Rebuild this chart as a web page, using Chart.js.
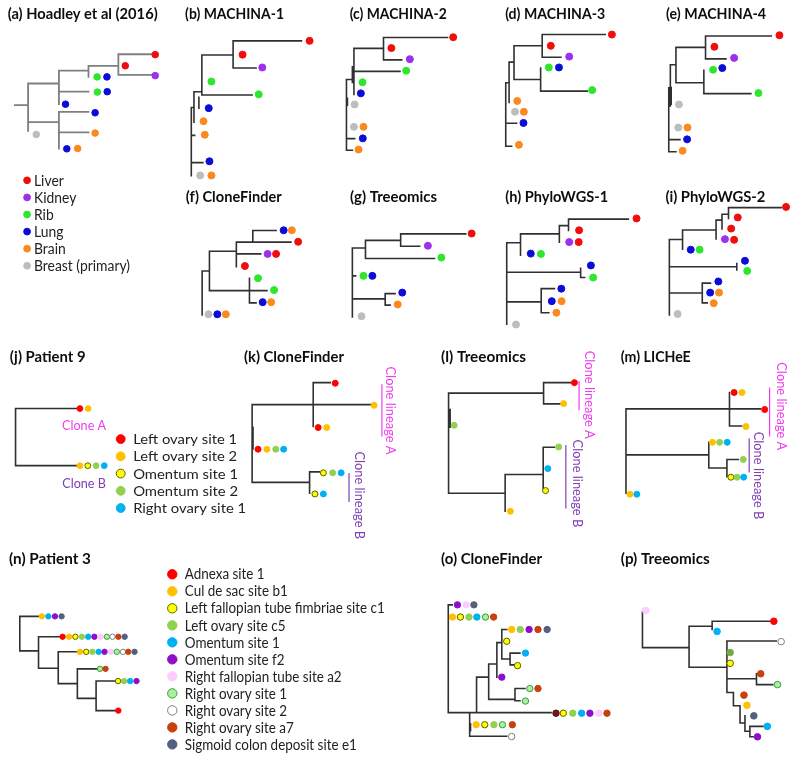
<!DOCTYPE html>
<html><head><meta charset="utf-8">
<script src="https://cdn.jsdelivr.net/npm/chart.js@4/dist/chart.umd.min.js"></script>
<style>html,body{margin:0;padding:0;background:#fff}#c{display:block}</style>
</head><body>
<canvas id="c" width="796" height="757"></canvas>
<script>
// ---------- categories ----------
const breastSites = ['Liver','Kidney','Rib','Lung','Brain','Breast (primary)'];
const patient9Sites = ['Left ovary site 1','Left ovary site 2','Omentum site 1','Omentum site 2','Right ovary site 1'];
const patient3Sites = ['Adnexa site 1','Cul de sac site b1','Left fallopian tube fimbriae site c1','Left ovary site c5','Omentum site 1','Omentum site f2','Right fallopian tube site a2','Right ovary site 1','Right ovary site 2','Right ovary site a7','Sigmoid colon deposit site e1'];

// ---------- panel titles ----------
const panelTitles = ['(a) Hoadley et al (2016)','(b) MACHINA-1','(c) MACHINA-2','(d) MACHINA-3','(e) MACHINA-4','(f) CloneFinder','(g) Treeomics','(h) PhyloWGS-1','(i) PhyloWGS-2','(j) Patient 9','(k) CloneFinder','(l) Treeomics','(m) LICHeE','(n) Patient 3','(o) CloneFinder','(p) Treeomics'];

// ---------- trees: branches [x1,y1,x2,y2], leaves [x,y,category] ----------
const treeA = [[9.3,101,22.7,101],[22.7,79,22.7,127],[22.7,79,54,79],[54,66,54,100],[54,66,84,66],[54,87.3,84,87.3],[84,61,84,72.3],[84,61,114.3,61],[114.3,49.3,114.3,70.3],[114.3,49.3,147.7,49.3],[114.3,70.3,147.7,70.3],[22.7,118.3,54,118.3],[54,107.7,54,145],[54,107.7,84,107.7],[54,128.7,84,128.7]];
const leavesA = [[151.7,49.7,'Liver'],[151.7,71,'Kidney'],[121.3,61,'Liver'],[92.7,72.3,'Rib'],[102.7,72.3,'Lung'],[93,87.7,'Rib'],[103,87.3,'Lung'],[60.7,100,'Lung'],[90.7,108.7,'Lung'],[90.7,129.3,'Brain'],[62,145.3,'Lung'],[73,145,'Brain'],[31,130.7,'Breast (primary)']];

const treeB = [[230.7,35.7,300,35.7],[230.7,35.7,230.7,63.3],[230.7,63.3,254,63.3],[199,50,230.7,50],[199,50,199,90.7],[199,90.7,250,90.7],[191,87.3,199,87.3],[191,87.3,191,118.3],[196,93,196,104],[188.3,103.3,191,103.3],[188.3,103.3,188.3,172.7],[188.3,131.7,191.7,131.7],[188.3,159.3,200,159.3]];
const leavesB = [[308.3,35.7,'Liver'],[240.3,49.7,'Liver'],[260.3,62.7,'Kidney'],[208.7,77,'Rib'],[256.7,90,'Rib'],[206,104,'Lung'],[200.7,117.3,'Brain'],[202,131,'Brain'],[206.7,158,'Lung'],[197.3,172.3,'Breast (primary)'],[208.7,172.3,'Brain']];

const treeC = [[383.3,32.3,448.3,32.3],[383.3,32.3,383.3,55],[383.3,55,401.7,55],[353.3,43.3,383.3,43.3],[353.3,43.3,353.3,90],[351.7,66.7,400,66.7],[351.7,62,351.7,78],[345.7,75,345.7,146.7],[346.7,94,346.7,101],[345.7,75,351.7,75],[345.7,135,354,135],[345.7,146.7,351.7,146.7]];
const leavesC = [[454,32,'Liver'],[391.3,43,'Liver'],[410,54.3,'Kidney'],[406.3,66,'Rib'],[362,77.7,'Rib'],[360.3,89,'Lung'],[354,100.3,'Breast (primary)'],[353.3,123,'Breast (primary)'],[363,123,'Brain'],[362.3,134.7,'Lung'],[358,146,'Brain']];

const treeD = [[544.3,29.3,608.3,29.3],[544.3,29.3,544.3,52.3],[544.3,52.3,563.3,52.3],[515.7,40.7,544.3,40.7],[515.7,40.7,515.7,75],[515.7,75,542.7,75],[542.7,63.3,542.7,86.7],[542.7,86.7,590,86.7],[510.7,57.3,515.7,57.3],[510.7,57.3,510.7,98.3],[507.3,78.3,510.7,78.3],[507.3,78.3,507.3,142.7],[507.3,119.3,518.3,119.3],[507.3,142.7,513.3,142.7]];
const leavesD = [[615,29.3,'Liver'],[553,40.7,'Liver'],[571.7,51.7,'Kidney'],[551,62.7,'Rib'],[561.3,62.7,'Lung'],[595,85.7,'Rib'],[519,96.7,'Brain'],[516.7,107.7,'Breast (primary)'],[525.7,107.7,'Brain'],[525.3,119,'Lung'],[520.7,141.3,'Brain']];

const treeE = [[710,30.7,776.7,30.7],[710,30.7,710,54],[710,54,730.7,54],[680,42.3,710,42.3],[680,42.3,680,78.3],[680,78.3,708.3,78.3],[708.3,65.7,708.3,89.3],[708.3,89.3,756,89.3],[674.3,60,680,60],[674.3,60,674.3,101.7],[675.2,83,675.2,100],[672.7,83.3,674.3,83.3],[672.7,83.3,672.7,148.3],[672.7,136,684,136],[672.7,148.3,680,148.3]];
const leavesE = [[785,30,'Liver'],[719,41.7,'Liver'],[739,53,'Kidney'],[717.7,65,'Rib'],[727,63.3,'Lung'],[763.7,88.7,'Rib'],[683,100.3,'Breast (primary)'],[682.3,123.7,'Breast (primary)'],[691.7,123.7,'Brain'],[691.3,135.7,'Lung'],[686.7,147.3,'Brain']];

const treeF = [[199.3,269.3,206.7,269.3],[199.3,269.3,199.3,314],[206.7,249.3,206.7,289.3],[206.7,249.3,234,249.3],[234,240,234,265],[234,240,250.7,240],[250.7,228.3,250.7,240],[250.7,228.3,274.3,228.3],[250.7,240,289.3,240],[234,252,258.7,252],[206.7,289.3,265,289.3],[247.3,276.7,247.3,301.7],[247.3,301.7,254,301.7]];
const leavesF = [[282,228,'Lung'],[290.3,228,'Brain'],[296.7,239.7,'Liver'],[265.7,252,'Kidney'],[274.3,252,'Liver'],[242.7,264.3,'Liver'],[256,276.7,'Rib'],[272.3,288.7,'Rib'],[260.7,301,'Lung'],[269.3,301,'Brain'],[205.7,313.3,'Breast (primary)'],[214.7,313.3,'Lung'],[223.3,313.3,'Brain']];

const treeG = [[351.7,246,351.7,316],[351.7,246,365,246],[365,238.3,365,256.7],[365,238.3,400.7,238.3],[400.7,231.7,400.7,244.3],[400.7,231.7,466.7,231.7],[400.7,244.3,420,244.3],[365,256.7,435,256.7],[351.7,274.3,355,274.3],[351.7,297.7,385,297.7],[385,292.3,385,304],[385,292.3,395,292.3],[385,304,390,304]];
const leavesG = [[472.7,231.3,'Liver'],[428.3,243.7,'Kidney'],[442,255.7,'Rib'],[363,274.3,'Rib'],[372,274.3,'Lung'],[402.3,291.3,'Lung'],[397.7,303.3,'Brain'],[361,315.3,'Breast (primary)']];

const treeH = [[508.3,240.7,508.3,323.3],[508.3,240.7,522.3,240.7],[522.3,231.7,522.3,253.3],[522.3,231.7,561.7,231.7],[561.7,223.3,561.7,240],[561.7,223.3,571,223.3],[571,216.7,571,228.3],[571,216.7,631.7,216.7],[508.3,270.7,583.3,270.7],[583.3,266.7,583.3,276],[583.3,276,587.3,276],[508.3,300.7,543.3,300.7],[543.3,287.3,543.3,311.7],[543.3,287.3,556.7,287.3],[543.3,311.7,551,311.7]];
const leavesH = [[640,216,'Liver'],[581.7,228,'Liver'],[571.7,240,'Kidney'],[581.3,240,'Liver'],[532.7,251.7,'Lung'],[543,252,'Rib'],[593.7,263.7,'Lung'],[596,276,'Rib'],[563.7,287.3,'Lung'],[554,300,'Lung'],[564,300,'Brain'],[558.7,311.7,'Brain'],[517.7,323.7,'Breast (primary)']];

const treeI = [[673.3,237.3,673.3,314],[673.3,237.3,686.7,237.3],[686.7,227.7,686.7,247.3],[686.7,227.7,720.7,227.7],[720.7,217.7,720.7,236.7],[720.7,217.7,726.7,217.7],[726.7,211.7,726.7,226.7],[726.7,211.7,733.3,211.7],[733.3,205,733.3,216],[733.3,205,786.7,205],[673.3,265,741.7,265],[741.7,261.7,741.7,268.3],[673.3,291.7,706.7,291.7],[706.7,281.7,706.7,301.7],[706.7,281.7,715,281.7],[706.7,301.7,711.7,301.7]];
const leavesI = [[791.7,204.3,'Liver'],[742.7,215,'Liver'],[736,226.3,'Liver'],[729.7,237,'Kidney'],[739,237.7,'Liver'],[695,247.7,'Lung'],[704,247.7,'Rib'],[750,259,'Lung'],[752.3,269.3,'Rib'],[723,280,'Lung'],[714.7,291.3,'Lung'],[723.7,291.3,'Brain'],[718.3,302,'Brain'],[681.7,313,'Breast (primary)']];

const treeJ = [[10,409,10,467],[10,409,72.7,409],[10,467,72.7,467]];
const leavesJ = [[75.3,409,'Left ovary site 1'],[83.7,409,'Left ovary site 2'],[75.3,467,'Left ovary site 2'],[83.3,467,'Omentum site 1'],[91.7,467,'Omentum site 2'],[100,467,'Right ovary site 1']];

const treeK = [[250,405,250,484],[250.9,428,250.9,450],[250,405,370,405],[312,382.7,312,427.3],[312,382.7,329.3,382.7],[250,484,308.3,484],[308.3,473.3,308.3,495],[308.3,473.3,318.3,473.3]];
const leavesK = [[373.7,405.7,'Left ovary site 2'],[334.3,383.3,'Left ovary site 1'],[317,428.3,'Left ovary site 1'],[325.7,428.3,'Left ovary site 2'],[256,450.3,'Left ovary site 1'],[265,450.3,'Left ovary site 2'],[274,450.3,'Omentum site 2'],[282,450.3,'Right ovary site 1'],[322.3,474.3,'Omentum site 1'],[331.7,474.3,'Omentum site 2'],[340.3,474.3,'Right ovary site 1'],[313.7,495.7,'Omentum site 1'],[322.3,495.7,'Right ovary site 1']];

const treeL = [[449.3,393.3,449.3,495],[450.9,410,450.9,428],[449.3,393.3,545.7,393.3],[545.7,382.7,545.7,404.3],[545.7,382.7,573.3,382.7],[545.7,404.3,563.3,404.3],[449.3,495,506.7,495],[506.7,476,506.7,513.3],[506.7,476,545.3,476],[545.3,448.3,545.3,491.7],[545.3,448.3,556.7,448.3]];
const leavesL = [[577,382.7,'Left ovary site 1'],[566,404,'Left ovary site 2'],[455,426,'Omentum site 2'],[512,513.3,'Left ovary site 2'],[561,448,'Omentum site 2'],[550,470,'Right ovary site 1'],[547.7,492.3,'Omentum site 1']];

const treeM = [[629.3,409.3,629.3,495],[629.3,409.3,765.7,409.3],[734.3,392.7,734.3,426.7],[734.3,426.7,746.7,426.7],[629.3,456,713.3,456],[713.3,443.3,713.3,469.3],[713.3,469.3,731.7,469.3],[731.7,460.7,731.7,478.3],[731.7,460.7,743.3,460.7]];
const leavesM = [[770,410,'Left ovary site 1'],[739,392.7,'Left ovary site 1'],[747,392.7,'Left ovary site 2'],[751,427.3,'Left ovary site 2'],[717,443.3,'Left ovary site 2'],[724.3,443.3,'Omentum site 2'],[732,443.3,'Right ovary site 1'],[748.3,460.7,'Omentum site 2'],[735.7,478.7,'Omentum site 1'],[742,478.7,'Omentum site 2'],[748.7,478.7,'Right ovary site 1'],[633.3,496,'Left ovary site 2'],[640.3,496,'Right ovary site 1']];

const treeN = [[14.3,620,14.3,655],[14.3,620,33.3,620],[14.3,655,33.3,655],[33.3,640.7,33.3,672.7],[33.3,640.7,55,640.7],[33.3,672.7,53.3,672.7],[53.3,656,53.3,688.3],[53.3,656,72.3,656],[53.3,688.3,72.7,688.3],[72.7,673.3,72.7,703.3],[72.7,673.3,92.7,673.3],[72.7,703.3,91.7,703.3],[91.7,685.7,91.7,715.7],[91.7,685.7,111,685.7],[91.7,715.7,111.7,715.7]];
const leavesN = [[36.7,620,'Cul de sac site b1'],[43.3,620,'Omentum site 1'],[50,620,'Omentum site f2'],[56.7,620,'Sigmoid colon deposit site e1'],
 [57.7,640.7,'Adnexa site 1'],[64.3,640.7,'Cul de sac site b1'],[70.7,640.7,'Left fallopian tube fimbriae site c1'],[77.3,640.7,'Left ovary site c5'],[83.7,640.7,'Omentum site 1'],[90,640.7,'Omentum site f2'],[96.3,640.7,'Right fallopian tube site a2'],[102.7,640.7,'Right ovary site 1'],[108.3,640.7,'Right ovary site 2'],[114.3,640.7,'Right ovary site a7'],[120.7,640.7,'Sigmoid colon deposit site e1'],
 [75.3,656,'Cul de sac site b1'],[81.7,656,'Left fallopian tube fimbriae site c1'],[88,656,'Left ovary site c5'],[94.3,656,'Omentum site 1'],[100.3,656,'Omentum site f2'],[106.7,656,'Right fallopian tube site a2'],[112.7,656,'Right ovary site 1'],[119,656,'Right ovary site 2'],[124.3,656,'Right ovary site a7'],[130.7,656,'Sigmoid colon deposit site e1'],
 [95.7,673.3,'Right ovary site 1'],[101.3,673.3,'Right ovary site a7'],
 [114,685.7,'Left fallopian tube fimbriae site c1'],[120,685.7,'Left ovary site c5'],[126.3,685.7,'Omentum site 1'],[132.7,685.7,'Omentum site f2'],
 [114.3,715.7,'Adnexa site 1']];

const treeO = [[449,608.3,449,717.7],[449,608.3,453,608.3],[449,717.7,553.3,717.7],[470.7,717.7,470.7,741.7],[471.6,729,471.6,736],[470.7,741.7,508.3,741.7],[477.7,681.7,477.7,717.7],[477.7,681.7,490,681.7],[490,668.3,490,704.3],[490,704.3,516.7,704.3],[516.7,693.3,516.7,705.7],[516.7,693.3,526.7,693.3],[516.7,705.7,521.7,705.7],[490,668.3,498.3,668.3],[498.3,646.7,498.3,681.7],[498.3,646.7,503.3,646.7],[503.3,633.3,503.3,663.3],[503.3,633.3,508.3,633.3],[503.3,663.3,511.7,663.3],[511.7,657.3,511.7,669.3],[511.7,657.3,521.7,657.3],[511.7,669.3,516,669.3]];
const leavesO = [[458.3,608.3,'Omentum site f2'],[467,608.3,'Right fallopian tube site a2'],[475,608.3,'Sigmoid colon deposit site e1'],
 [453.3,620.7,'Cul de sac site b1'],[461.3,620.7,'Left fallopian tube fimbriae site c1'],[470,620.7,'Left ovary site c5'],[478,620.7,'Omentum site 1'],[486.7,620.7,'Right ovary site 1'],[495,620.7,'Right ovary site a7'],
 [513.3,633.3,'Cul de sac site b1'],[522,633.3,'Left ovary site c5'],[531,633.3,'Omentum site f2'],[540,633.3,'Right ovary site a7'],[549.3,633.3,'Sigmoid colon deposit site e1'],
 [508.3,645.3,'Left fallopian tube fimbriae site c1'],[527.3,657.3,'Omentum site 1'],[519.3,670,'Left fallopian tube fimbriae site c1'],[503.3,681.7,'Omentum site f2'],[531.7,693.3,'Right ovary site 1'],[540,693.3,'Right ovary site a7'],[527.3,706,'Right ovary site 1'],
 [558.3,718.3,'Adnexa (dark)'],[565.7,718.3,'Left fallopian tube fimbriae site c1'],[575.3,718.3,'Left ovary site c5'],[584.3,718.3,'Omentum site 1'],[592.7,718.3,'Omentum site f2'],[601.7,718.3,'Right fallopian tube site a2'],[610,718.3,'Right ovary site a7'],
 [477.3,730,'Cul de sac site b1'],[486,730,'Left fallopian tube fimbriae site c1'],[495.3,730,'Left ovary site c5'],[504,730,'Right ovary site 1'],[514,730,'Right ovary site a7'],[513.3,742,'Right ovary site 2']];

const treeP = [[646,615,646,651.7],[646,651.7,693.3,651.7],[693.3,630,693.3,671.7],[693.3,630,716.7,630],[716.7,625,716.7,633.3],[716.7,625,775,625],[693.3,671.7,731.7,671.7],[731.7,645,731.7,697.3],[731.7,645,781.7,645],[731.7,683.3,761.7,683.3],[761.7,678.3,761.7,689.3],[761.7,689.3,778.3,689.3],[731.7,697.3,738.3,697.3],[738.3,697.3,738.3,710.7],[738.3,710.7,745,710.7],[745,710.7,745,728.3],[745,728.3,750,728.3],[750,721,750,736.7],[750,736.7,755,736.7],[755,731.7,755,742.3],[755,731.7,768.3,731.7],[755,742.3,758.3,742.3]];
const leavesP = [[649.3,614,'Right fallopian tube site a2'],[779.3,625,'Adnexa site 1'],[721.7,635.3,'Omentum site 1'],[786.7,645.7,'Right ovary site 2'],[735,656.7,'Left ovary (dark)'],[735,667.7,'Left fallopian tube fimbriae site c1'],[766,678.3,'Right ovary site a7'],[783,689.3,'Right ovary site 1'],[749,700,'Right ovary site a7'],[752,710.3,'Cul de sac site b1'],[759,721,'Sigmoid colon deposit site e1'],[772.7,731.7,'Omentum site 1'],[762.7,742.3,'Omentum site f2']];

// ---------- styles (colour palettes) ----------
const paletteA = {fill:{'Liver':'#f20d0d','Kidney':'#9b30f0','Rib':'#2ee62e','Lung':'#0c0cd8','Brain':'#fb8a1e','Breast (primary)':'#bdbdbd'}, border:{}};
const paletteP9 = {fill:{'Left ovary site 1':'#ff0000','Left ovary site 2':'#ffc000','Omentum site 1':'#ffff00','Omentum site 2':'#92d050','Right ovary site 1':'#00b0f0'},
  border:{'Omentum site 1':'#5e5e00'}};
const paletteP3 = {fill:{'Adnexa site 1':'#ff0000','Cul de sac site b1':'#ffc000','Left fallopian tube fimbriae site c1':'#ffff00','Left ovary site c5':'#92d050','Omentum site 1':'#00b0f0','Omentum site f2':'#8e0fc8','Right fallopian tube site a2':'#ffccff','Right ovary site 1':'#a8f0a0','Right ovary site 2':'#ffffff','Right ovary site a7':'#c8400e','Sigmoid colon deposit site e1':'#556080','Adnexa (dark)':'#9a0a0a','Left ovary (dark)':'#70ad47'},
  border:{'Left fallopian tube fimbriae site c1':'#5e5e00','Right ovary site 1':'#3c9c3c','Right ovary site 2':'#7f7f7f','Adnexa (dark)':'#222222'}};
const fillOf=(p,c)=>p.fill[c], borderOf=(p,c)=>p.border[c]||p.fill[c];

// ---------- layout ----------
const titleAnchors = [[2,9],[182,9],[349,9],[506.7,9],[670,9],[182.7,194.5],[349.3,194.5],[506.7,195],[669.3,195],[4,357],[241.7,357],[441.7,357],[624,357],[3.3,562.5],[441.7,562.5],[624,562.5]];
const titleWidths = [150,99,97,100,100,96,87,103,100,76,100,85,70,82,101,89];
const legendA = {x:21.7, y0:177.3, dy:17.35, r:3.4, tx:28.7, font:14.5, refText:'Breast (primary)', refW:96};
const legendJ = {x:116.7, y0:440, dy:17.5, r:4.4, tx:129.3, font:14, refText:'Left ovary site 1', refW:104};
const legendN = {x:169, y0:577.3, dy:17.27, r:4.7, tx:181.7, font:14.5, refText:'Left fallopian tube fimbriae site c1', refW:200};
const cloneLabels = [['Clone A',79.5,426,'#f03cf0'],['Clone B',79.5,484.7,'#8040b4']];
const lineageLabels = [['Clone lineage A',390.5,411,'#f03cf0',[381.7,385,381.7,436.7]],['Clone lineage B',358.5,497,'#8040b4',[348.3,475,348.3,503.3]],
 ['Clone lineage A',592.7,395,'#f03cf0',[581.7,381.7,581.7,410]],['Clone lineage B',580,485,'#8040b4',[568.3,446.7,568.3,510]],
 ['Clone lineage A',786.7,406.7,'#f03cf0',[775,388.3,775,436.7]],['Clone lineage B',763.3,477,'#8040b4',[754.3,440,754.3,473.3]]];

// ---------- build datasets ----------
function segData(segs){ const d=[]; segs.forEach(s=>{d.push({x:s[0],y:s[1]},{x:s[2],y:s[3]},{x:null,y:null});}); return d; }
function branchSet(segs,color,w){ return {type:'line',data:segData(segs),borderColor:color,borderWidth:w,pointRadius:0,spanGaps:false,fill:false,tension:0,borderCapStyle:'square',order:3}; }
function leafSet(leaves,r,p){
  return {type:'scatter',data:leaves.map(l=>({x:l[0],y:l[1]})),pointRadius:r,pointHoverRadius:r,
    pointBackgroundColor:leaves.map(l=>fillOf(p,l[2])),pointBorderColor:leaves.map(l=>borderOf(p,l[2])),pointBorderWidth:1,order:1};
}
function legendSet(cats,L,p){
  return {type:'scatter',data:cats.map((c,i)=>({x:L.x,y:L.y0+i*L.dy})),pointRadius:L.r,pointHoverRadius:L.r,
    pointBackgroundColor:cats.map(c=>fillOf(p,c)),pointBorderColor:cats.map(c=>borderOf(p,c)),pointBorderWidth:1,order:1};
}
const dark='#303030';
const datasets = [
  branchSet(treeA,'#7f7f7f',1.8),
  ...[treeB,treeC,treeD,treeE,treeF,treeG,treeH,treeI].map(t=>branchSet(t,dark,1.6)),
  ...[treeJ,treeK,treeL,treeM,treeN,treeO,treeP].map(t=>branchSet(t,dark,1.6)),
  ...lineageLabels.map(l=>branchSet([l[4]],l[3],1.2)),
  leafSet(leavesA,3.3,paletteA),
  ...[leavesB,leavesC,leavesD,leavesE,leavesF,leavesG,leavesH,leavesI].map(l=>leafSet(l,3.5,paletteA)),
  leafSet(leavesJ,2.9,paletteP9), leafSet(leavesK,3,paletteP9), leafSet(leavesL,3,paletteP9), leafSet(leavesM,3,paletteP9),
  leafSet(leavesN,2.7,paletteP3), leafSet(leavesO,3.2,paletteP3), leafSet(leavesP,3.3,paletteP3),
  legendSet(breastSites,legendA,paletteA), legendSet(patient9Sites,legendJ,paletteP9), legendSet(patient3Sites,legendN,paletteP3)
];

// ---------- text plugin ----------
const FONT='Lato, "Open Sans", sans-serif';
function fitText(ctx,text,x,y,stretch,center){
  const m=ctx.measureText(text).width;
  ctx.save(); ctx.translate(x,y); ctx.scale(stretch,1); ctx.textAlign='left';
  ctx.fillText(text, center? -m/2 : 0, 0); ctx.restore();
}
const textPlugin = {
  id:'texts',
  afterDraw(chart){
    const ctx=chart.ctx, sx=chart.scales.x, sy=chart.scales.y;
    const X=v=>sx.getPixelForValue(v), Y=v=>sy.getPixelForValue(v);
    ctx.save();
    ctx.textBaseline='middle';
    ctx.fillStyle='#0d0d0d';
    ctx.font='bold 14.5px '+FONT;
    panelTitles.forEach((t,i)=>{const s=titleWidths[i]/ctx.measureText(t).width; fitText(ctx,t,X(titleAnchors[i][0]),Y(titleAnchors[i][1]),s,false);});
    const legend=(cats,L)=>{ctx.font=L.font+'px '+FONT; ctx.fillStyle='#222';
      const s=L.refW/ctx.measureText(L.refText).width;
      cats.forEach((c,i)=>fitText(ctx,c,X(L.tx),Y(L.y0+i*L.dy)+0.5,s,false));};
    legend(breastSites,legendA); legend(patient9Sites,legendJ); legend(patient3Sites,legendN);
    ctx.font='14px '+FONT;
    const sC=44/ctx.measureText('Clone A').width;
    cloneLabels.forEach(c=>{ctx.fillStyle=c[3];fitText(ctx,c[0],X(c[1]),Y(c[2]),sC,true);});
    const sL=88/ctx.measureText('Clone lineage A').width;
    lineageLabels.forEach(c=>{ctx.save();ctx.translate(X(c[1]),Y(c[2]));ctx.rotate(Math.PI/2);ctx.fillStyle=c[3];fitText(ctx,c[0],0,0,sL,true);ctx.restore();});
    ctx.restore();
  }
};

new Chart(document.getElementById('c'),{
  type:'scatter',
  data:{datasets},
  options:{
    responsive:false, animation:false, events:[], devicePixelRatio:1,
    layout:{padding:0},
    plugins:{legend:{display:false},tooltip:{enabled:false}},
    scales:{
      x:{type:'linear',min:0,max:796,display:false},
      y:{type:'linear',min:0,max:757,reverse:true,display:false}
    }
  },
  plugins:[textPlugin]
});
</script>
</body></html>
